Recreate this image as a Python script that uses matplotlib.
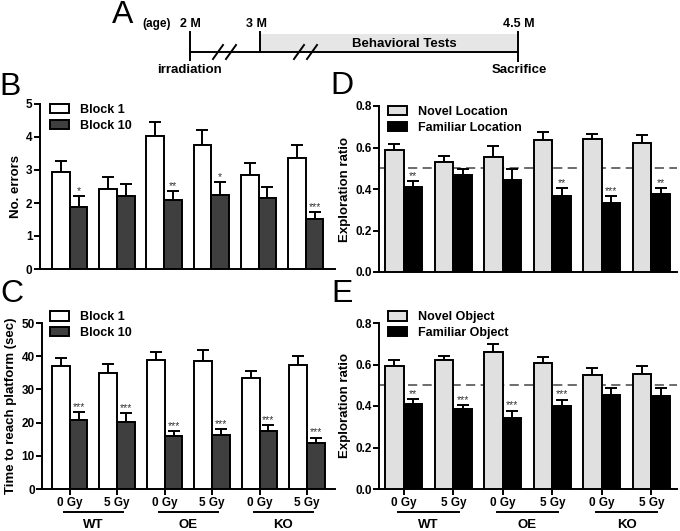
import matplotlib
matplotlib.use("Agg")
import matplotlib.pyplot as plt
from matplotlib.patches import Patch, Rectangle
import numpy as np

plt.rcParams['font.family'] = ['Liberation Sans', 'DejaVu Sans']
plt.rcParams['font.weight'] = 'bold'

# ---------------- data ----------------
groups = ['WT', 'OE', 'KO']
doses = ['0 Gy', '5 Gy', '0 Gy', '5 Gy', '0 Gy', '5 Gy']

B_block1 = [2.93, 2.43, 4.02, 3.75, 2.85, 3.37]
B_block1_err = [0.35, 0.37, 0.44, 0.46, 0.35, 0.40]
B_block10 = [1.88, 2.21, 2.09, 2.25, 2.15, 1.52]
B_block10_err = [0.34, 0.37, 0.28, 0.38, 0.33, 0.20]
B_stars = ['*', '', '**', '*', '', '***']

C_block1 = [37.1, 35.0, 38.9, 38.6, 33.3, 37.3]
C_block1_err = [2.3, 2.8, 2.5, 3.3, 2.1, 2.8]
C_block10 = [20.7, 20.3, 16.0, 16.3, 17.4, 14.0]
C_block10_err = [2.5, 2.7, 1.5, 1.7, 1.8, 1.5]
C_stars = ['***', '***', '***', '***', '***', '***']

D_novel = [0.586, 0.529, 0.553, 0.635, 0.639, 0.623]
D_novel_err = [0.031, 0.028, 0.053, 0.038, 0.028, 0.036]
D_fam = [0.411, 0.469, 0.445, 0.365, 0.333, 0.374]
D_fam_err = [0.029, 0.027, 0.050, 0.038, 0.035, 0.032]
D_stars = ['**', '', '', '**', '***', '**']

E_novel = [0.595, 0.620, 0.662, 0.606, 0.550, 0.555]
E_novel_err = [0.025, 0.023, 0.037, 0.029, 0.034, 0.037]
E_fam = [0.409, 0.385, 0.343, 0.401, 0.454, 0.449]
E_fam_err = [0.025, 0.021, 0.035, 0.030, 0.033, 0.037]
E_stars = ['**', '***', '***', '***', '', '']

# timeline (schematic, pixel layout)
age_labels = ['2 M', '3 M', '4.5 M']

# ---------------- figure ----------------
W, H = 680, 531
fig = plt.figure(figsize=(W / 100, H / 100), dpi=100)


def px_axes(l, t, r, b):
    return fig.add_axes([l / W, 1 - b / H, (r - l) / W, (b - t) / H])


LW = 1.4
bw = 0.375
x = np.arange(6)


def panel(ax, v1, e1, v2, e2, stars, c1, c2, labels, ylim, yticks, yfmt,
          ylabel, xlim, dashed=None, show_x=False, leg_anchor=(0.0, 1.0), star_off=0.0):
    kw = dict(width=bw, edgecolor='black', linewidth=LW, zorder=3)
    ax.bar(x - bw / 2, v1, color=c1, **kw)
    ax.bar(x + bw / 2, v2, color=c2, **kw)
    ekw = dict(fmt='none', ecolor='black', elinewidth=LW, capsize=4, capthick=LW, zorder=2)
    ax.errorbar(x - bw / 2, v1, yerr=[np.zeros(6), e1], **ekw)
    ax.errorbar(x + bw / 2, v2, yerr=[np.zeros(6), e2], **ekw)
    for xi, v, e, s in zip(x, v2, e2, stars):
        if s:
            ax.text(xi + bw / 2, v + e + star_off, s, ha='center', va='bottom',
                    fontsize=7.5, fontweight='normal', color='#333333')
    if dashed is not None:
        ax.axhline(dashed, color='#444444', lw=1.1, ls=(0, (6, 3.5)), zorder=1)
    ax.set_xlim(*xlim)
    ax.set_ylim(*ylim)
    ax.set_yticks(yticks)
    ax.set_yticklabels([yfmt.format(t) for t in yticks], fontsize=8.5, fontweight='bold')
    for sp in ['top', 'right']:
        ax.spines[sp].set_visible(False)
    for sp in ['left', 'bottom']:
        ax.spines[sp].set_linewidth(LW)
    ax.tick_params(axis='y', direction='out', length=4, width=LW, pad=1)
    ax.set_ylabel(ylabel, fontsize=9.5, fontweight='bold', labelpad=3)
    if show_x:
        ax.set_xticks(x)
        ax.set_xticklabels(doses, fontsize=8.5, fontweight='bold')
        ax.tick_params(axis='x', direction='out', length=4, width=LW, pad=2)
        tr = ax.get_xaxis_transform()
        for gi, g in enumerate(groups):
            x0 = 2 * gi - 0.12
            x1 = 2 * gi + 1.12
            ax.plot([x0, x1], [-0.14, -0.14], color='black', lw=LW, transform=tr, clip_on=False)
            ax.text(2 * gi + 0.5, -0.215, g, transform=tr, ha='center', va='center',
                    fontsize=9.5, fontweight='bold')
    else:
        ax.set_xticks([])
    handles = [Patch(facecolor=c1, edgecolor='black', linewidth=LW, label=labels[0]),
               Patch(facecolor=c2, edgecolor='black', linewidth=LW, label=labels[1])]
    ax.legend(handles=handles, loc='upper left', bbox_to_anchor=leg_anchor, frameon=False,
              prop={'size': 9, 'weight': 'bold'}, handlelength=1.5, handleheight=0.75,
              handletextpad=0.9, labelspacing=0.3, borderaxespad=0, borderpad=0)


axB = px_axes(39.5, 104, 335, 269)
panel(axB, B_block1, B_block1_err, B_block10, B_block10_err, B_stars,
      'white', '#3f3f3f', ['Block 1', 'Block 10'], (0, 5), [0, 1, 2, 3, 4, 5], '{:d}',
      'No. errors', (-0.64, 5.62), leg_anchor=(0.035, 1.0))

axC = px_axes(41.7, 323, 335, 489)
panel(axC, C_block1, C_block1_err, C_block10, C_block10_err, C_stars,
      'white', '#3f3f3f', ['Block 1', 'Block 10'], (0, 50), [0, 10, 20, 30, 40, 50], '{:d}',
      'Time to reach platform (sec)', (-0.59, 5.59), show_x=True, leg_anchor=(0.03, 1.07))

axD = px_axes(379, 106, 677, 272)
panel(axD, D_novel, D_novel_err, D_fam, D_fam_err, D_stars,
      '#e0e0e0', 'black', ['Novel Location', 'Familiar Location'], (0, 0.8),
      [0, 0.2, 0.4, 0.6, 0.8], '{:.1f}', 'Exploration ratio', (-0.5, 5.52), dashed=0.5,
      leg_anchor=(0.03, 1.0))

axE = px_axes(379, 323, 677, 489)
panel(axE, E_novel, E_novel_err, E_fam, E_fam_err, E_stars,
      '#e0e0e0', 'black', ['Novel Object', 'Familiar Object'], (0, 0.8),
      [0, 0.2, 0.4, 0.6, 0.8], '{:.1f}', 'Exploration ratio', (-0.5, 5.52), dashed=0.5,
      show_x=True, leg_anchor=(0.03, 1.07))

# ---------------- panel A: timeline ----------------
axA = fig.add_axes([0, 0, 1, 1], zorder=-1)
axA.set_xlim(0, W)
axA.set_ylim(H, 0)
axA.axis('off')
axA.add_patch(Rectangle((260, 34), 258, 18, facecolor='#e6e6e6', edgecolor='none'))
axA.plot([190, 518], [52, 52], color='black', lw=1.4)
axA.plot([190, 190], [32, 60], color='black', lw=1.4)
axA.plot([260, 260], [32, 52], color='black', lw=1.4)
axA.plot([518, 518], [32, 61], color='black', lw=1.4)
for c in [218, 231, 299, 312]:
    axA.plot([c - 5, c + 5], [59, 45], color='black', lw=1.4)
axA.text(157, 24, '(age)', ha='center', va='center', fontsize=8.5, fontweight='bold')
for xp, lab in zip([190, 256, 519], age_labels):
    axA.text(xp, 24, lab, ha='center', va='center', fontsize=9, fontweight='bold')
axA.text(404, 44, 'Behavioral Tests', ha='center', va='center', fontsize=9.5, fontweight='bold')
axA.text(190, 70, 'irradiation', ha='center', va='center', fontsize=9.5, fontweight='bold')
axA.text(519, 70, 'Sacrifice', ha='center', va='center', fontsize=9.5, fontweight='bold')

# panel letters
for lab, xp, yp in [('A', 123, 15), ('B', 10, 87), ('C', 12, 294), ('D', 342, 86), ('E', 342, 294)]:
    axA.text(xp, yp, lab, ha='center', va='center', fontsize=23, fontweight='normal')

fig.savefig('out.png', dpi=100)
